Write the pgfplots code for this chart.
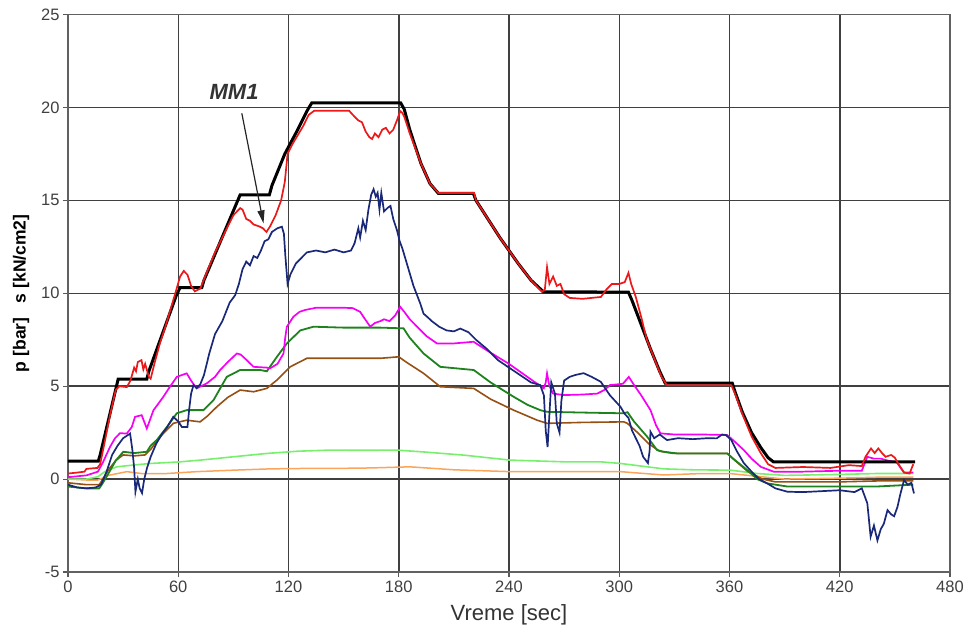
\documentclass[border=0pt]{standalone}
\usepackage{fontspec}
\setmainfont{Liberation Sans}
\usepackage{pgfplots}
\pgfplotsset{compat=1.18}
\usetikzlibrary{arrows.meta}
\definecolor{cred}{RGB}{235,25,25}
\definecolor{cnavy}{RGB}{25,40,120}
\definecolor{cmag}{RGB}{245,0,245}
\definecolor{cgreen}{RGB}{30,130,30}
\definecolor{cbrown}{RGB}{150,80,20}
\definecolor{clgreen}{RGB}{120,240,110}
\definecolor{corange}{RGB}{250,165,90}
\begin{document}
\begin{tikzpicture}
\useasboundingbox (-68pt,-58pt) rectangle (898pt,572pt);
\begin{axis}[
 at={(0pt,0pt)}, anchor=south west,
 scale only axis, width=882pt, height=557.5pt,
 xmin=0, xmax=480, ymin=-5, ymax=25,
 xtick={0,60,...,480}, ytick={-5,0,...,25},
 grid=major, major grid style={draw=black!75, line width=1.5pt},
 axis line style={draw=black!62, line width=1.9pt},
 tick pos=left, tick align=outside, major tick length=5pt,
 tick style={draw=black!65, line width=1.1pt},
 ticklabel style={font=\fontsize{16.5}{18}\selectfont, text=black!75},
 /pgf/number format/assume math mode=true,
 xlabel={Vreme [sec]},
 every axis x label/.style={at={(axis description cs:0.5,-0.0771)}, anchor=center, font=\fontsize{22}{24}\selectfont, text=black!80},
 ylabel={p [bar]\ \ \ s [kN/cm2]},
 every axis y label/.style={at={(axis description cs:-0.0533,0.5)}, anchor=center, rotate=90, font=\fontsize{17.5}{19}\selectfont\bfseries, text=black},
]
% orange
\addplot[corange, line width=1.5pt] coordinates {(0,0.0)(10,-0.05)(16.3,-0.05)(22,0.2)(32,0.4)(40,0.3)(53.8,0.3)(70,0.4)(90.1,0.48)(110,0.55)(126.4,0.57)(142.7,0.57)(165,0.6)(186,0.66)(210,0.5)(240.7,0.4)(270,0.4)(300.7,0.4)(324.2,0.22)(345,0.3)(360,0.3)(375,0.15)(390,0.0)(420,0.05)(440,0.1)(460,0.1)};
% light green
\addplot[clgreen, line width=1.6pt] coordinates {(0,0.0)(10,0.0)(16.3,0.13)(20,0.4)(26.5,0.66)(35,0.75)(44.7,0.84)(60,0.92)(71.9,1.02)(90,1.2)(108.2,1.38)(125,1.5)(142.7,1.56)(160,1.55)(179,1.56)(195,1.45)(215.3,1.29)(240.7,1.02)(269.8,0.93)(289.8,0.93)(300.7,0.84)(324.2,0.55)(340,0.5)(360.6,0.48)(375,0.3)(390,0.2)(420,0.25)(440,0.3)(460,0.3)};
% brown
\addplot[cbrown, line width=1.6pt] coordinates {(0,-0.2)(10,-0.3)(17,-0.3)(19,0.0)(22,0.5)(26,1.0)(30,1.3)(36,1.25)(42,1.3)(45,1.6)(48,2.0)(51.9,2.46)(57.3,3.0)(64.6,3.17)(71.9,3.08)(76,3.4)(81,3.89)(87,4.4)(93.7,4.79)(101,4.7)(108.2,4.88)(113.7,5.33)(120.9,6.04)(130,6.5)(150,6.5)(170,6.5)(180,6.58)(184,6.3)(193.5,5.69)(202.6,4.97)(220.8,4.88)(230,4.3)(242.5,3.71)(255.3,3.17)(260.7,3.0)(280,3.05)(302.5,3.08)(304.4,3.0)(310,2.5)(316,1.9)(322,1.5)(329.6,1.38)(358.8,1.38)(363,1.0)(370,0.4)(378,0.0)(385,-0.15)(420,-0.15)(440,-0.1)(460,-0.1)};
% green
\addplot[cgreen, line width=1.8pt] coordinates {(0,-0.4)(10,-0.5)(17,-0.5)(19,-0.2)(22,0.3)(26,1.0)(30.1,1.47)(36,1.4)(42.9,1.47)(45,1.8)(48.3,2.1)(53.8,2.8)(59.2,3.54)(64.6,3.71)(73.7,3.71)(79.2,4.25)(86.4,5.5)(93.7,5.87)(104.6,5.87)(108.2,5.8)(113.7,6.58)(119.1,7.3)(126.4,8.0)(133.6,8.2)(150,8.15)(170,8.15)(182.6,8.11)(186,7.6)(193.5,6.76)(202.6,6.04)(220.8,5.87)(230,5.2)(242.5,4.43)(250,4.0)(257,3.71)(260.7,3.62)(280,3.58)(302.5,3.54)(304.5,3.6)(308,3.1)(315.2,2.28)(320.6,1.56)(324.2,1.47)(331.5,1.38)(358.8,1.38)(362,1.1)(369.7,0.48)(375,0.0)(380.5,-0.23)(391.5,-0.4)(420,-0.4)(440,-0.4)(450,-0.35)(460,-0.3)};
% magenta
\addplot[cmag, line width=1.7pt] coordinates {(0,0.1)(10,0.2)(16.3,0.4)(19,0.9)(22.9,1.74)(25.6,2.2)(28.3,2.47)(32,2.45)(34.7,2.8)(36.5,3.35)(40.1,3.44)(42.9,2.72)(46.5,3.7)(51.9,4.43)(55,4.9)(59.2,5.5)(62,5.6)(64.6,5.69)(67,5.3)(70,4.88)(75.5,5.15)(80,5.5)(82.8,5.87)(87,6.3)(91.9,6.76)(94,6.7)(97.3,6.4)(101,6.04)(108,6.0)(110,5.96)(114,6.2)(117.3,6.76)(118.2,7.6)(119.1,8.2)(122.7,8.74)(126,9.0)(129,9.1)(135,9.22)(150,9.22)(155,9.2)(159,9.0)(161,8.7)(164.5,8.2)(167,8.4)(170,8.5)(172,8.6)(175,8.5)(178,8.8)(180.8,9.27)(183,9.0)(186,8.6)(190,8.2)(195,7.7)(200.8,7.3)(210,7.3)(220.7,7.39)(230,6.8)(240,6.2)(250,5.5)(258.9,4.88)(260,5.2)(260.7,5.69)(262,5.0)(264,4.6)(270,4.52)(280,4.55)(288,4.6)(292,4.8)(295,5.06)(302,5.13)(305.2,5.5)(308,5.07)(312,4.5)(317,3.71)(320,2.9)(322.4,2.46)(330,2.4)(345,2.4)(358.8,2.37)(363,2.0)(367.8,1.56)(372,1.1)(377,0.66)(384,0.4)(400,0.4)(420,0.45)(432,0.45)(435,1.2)(438.6,1.1)(442.3,1.1)(446,1.0)(451,0.9)(455,0.35)(460,0.35)};
% navy
\addplot[cnavy, line width=1.7pt] coordinates {(0,-0.3)(5,-0.45)(10,-0.5)(15,-0.45)(18,-0.3)(21,0.4)(24,1.3)(27,1.8)(30,2.2)(33.8,2.45)(35,1.6)(36,0.6)(36.7,-0.68)(38,0.0)(39,-0.5)(40.3,-0.75)(41.5,0.0)(43,0.6)(45,1.2)(48,1.9)(51,2.4)(54,2.8)(57.3,3.35)(60,3.1)(62,2.8)(65,2.8)(66,3.8)(67,4.6)(68.3,5.06)(70,4.9)(72,5.1)(74,5.6)(77,6.8)(80,7.8)(84,8.5)(88,9.5)(91,9.9)(93,10.5)(95,11.3)(97,11.7)(99,11.5)(101,12.0)(103,11.9)(105,12.3)(107,12.8)(109,12.9)(111,13.3)(114,13.5)(116.4,13.58)(117.5,13.2)(118.3,12.0)(119.5,10.5)(121,11.0)(124,11.6)(127,11.9)(130,12.2)(135,12.3)(140,12.2)(145,12.35)(150,12.2)(154,12.3)(156,12.7)(158,13.5)(159,13.0)(160.5,13.9)(162,13.4)(163.5,14.5)(165,15.3)(166.3,15.6)(167.5,15.2)(168.5,15.4)(169.5,14.5)(170.5,15.4)(172,14.4)(174,14.6)(175.5,14.7)(177,14.0)(179,13.4)(180.5,12.8)(182,12.4)(185,11.4)(188,10.4)(191.7,9.45)(193.5,8.9)(195.4,8.74)(198,8.5)(202,8.2)(206,8.0)(210,7.95)(213.5,8.1)(218,7.9)(222,7.5)(228,7.0)(234,6.4)(240,6.0)(246,5.6)(252,5.2)(257,5.06)(259,4.5)(260,2.6)(261,1.72)(262,3.5)(263,5.2)(265,4.6)(266,3.0)(267.5,2.5)(268.5,4.2)(270,5.3)(273,5.5)(276,5.6)(280.6,5.7)(285,5.5)(289.9,5.24)(295,4.5)(300.6,3.9)(303,3.5)(305,3.3)(307,2.6)(309,2.2)(311,1.8)(313,1.2)(315.6,0.86)(316.5,1.5)(317,2.55)(319,2.2)(322,2.4)(326,2.1)(332,2.2)(340,2.15)(348,2.2)(353,2.19)(356,2.4)(358,2.37)(361,2.1)(364,1.5)(367.8,0.86)(372,0.4)(376,0.0)(380.5,-0.23)(385,-0.5)(391.5,-0.68)(400,-0.7)(410,-0.65)(420,-0.6)(428,-0.7)(432,-0.5)(435,-1.3)(436.8,-3.1)(438.6,-2.5)(440.5,-3.3)(442.3,-2.7)(444,-2.4)(446,-1.67)(448,-1.9)(449.6,-2.0)(451.4,-1.5)(453,-0.8)(455,-0.05)(457,-0.3)(459,-0.2)(460.4,-0.77)};
% black
\addplot[black, line width=3pt] coordinates {(0,0.97)(16.5,0.97)(17.5,1.3)(27.3,5.38)(42.9,5.38)(44,5.8)(59,9.9)(61,10.3)(72.8,10.3)(74,10.7)(93.7,15.3)(109.6,15.3)(111,15.8)(118,17.5)(125,18.8)(130,19.8)(132.7,20.25)(181,20.25)(183,19.9)(186,18.8)(192,17.0)(197,15.9)(201.5,15.38)(220.6,15.38)(222,15.0)(235,13.0)(245,11.6)(252,10.7)(258.7,10.08)(305,10.06)(307,9.6)(312,8.3)(317,7.0)(322,5.8)(325,5.16)(361.5,5.16)(363,4.7)(367,3.6)(372,2.5)(377,1.7)(381,1.15)(384,0.92)(461,0.92)};
% red
\addplot[cred, line width=1.7pt] coordinates {(0,0.3)(5,0.35)(9,0.4)(10,0.55)(16,0.6)(17.5,0.8)(20,2.0)(23,3.5)(26,4.8)(28,5.0)(32,4.95)(34,5.3)(36,6.0)(37,5.8)(38,6.3)(40,6.4)(41,5.9)(42,6.2)(44,5.5)(45,5.4)(47,6.2)(50,7.3)(53,8.2)(56,9.2)(59,10.2)(61,10.9)(63,11.2)(65,11.0)(67,10.4)(69,10.1)(72,10.25)(75,11.0)(80,12.2)(85,13.2)(90,14.2)(93.7,14.58)(95,14.5)(97,14.0)(99,13.9)(101,13.7)(104,13.6)(106,13.5)(108,13.3)(110,13.6)(113,14.2)(116,15.0)(118,16.0)(119.5,17.5)(122,18.0)(125,18.5)(128,19.0)(131,19.6)(134,19.82)(153,19.82)(155,19.6)(158,19.3)(160,19.2)(162,18.7)(164,18.4)(165.5,18.3)(167,18.6)(169,18.4)(171,18.8)(173,18.9)(175,18.6)(177,18.8)(179,19.3)(180.8,19.8)(182,19.7)(183,19.5)(186,18.6)(192,17.0)(197,15.9)(201.5,15.4)(221,15.4)(222,15.0)(235,13.0)(245,11.6)(252,10.7)(258,10.08)(259.5,10.2)(260.7,11.4)(262,10.5)(264,10.9)(266,10.4)(268,10.5)(270,9.95)(273,9.75)(280,9.7)(290,9.8)(293,10.2)(296,10.5)(300,10.5)(303,10.6)(305,11.1)(306.5,10.5)(309,9.8)(312,8.7)(315,7.5)(319,6.5)(323,5.5)(326,5.05)(361,5.05)(363,4.6)(367,3.5)(372,2.3)(377,1.4)(381,0.8)(385,0.6)(400,0.65)(415,0.6)(425,0.75)(432,0.7)(434,1.2)(437,1.65)(439,1.4)(441,1.65)(443,1.4)(445,1.2)(448,1.3)(450,1.15)(452,0.8)(455,0.35)(458,0.3)(460,0.8)};
\node[font=\fontsize{22}{24}\selectfont\bfseries\itshape, text=black!80] at (axis cs:90.4,20.83) {MM1};
\draw[-{Triangle[length=13pt,width=7pt]}, line width=1.2pt, black!85] (axis cs:94.6,19.68) -- (axis cs:106.4,13.76);
\end{axis}
\end{tikzpicture}
\end{document}
